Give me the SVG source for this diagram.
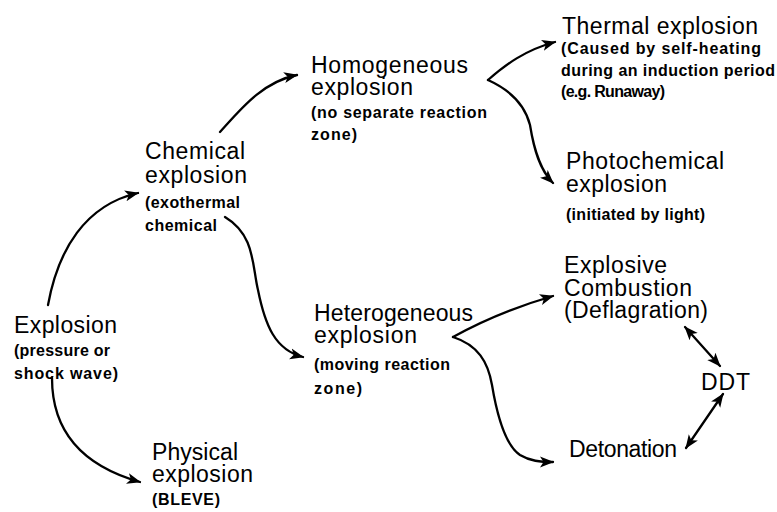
<svg xmlns="http://www.w3.org/2000/svg" width="777" height="512" viewBox="0 0 777 512">
<style>
.t{font-family:"Liberation Sans",Arial,Helvetica,sans-serif;font-size:23px;fill:#000}
.s{font-family:"Liberation Sans",Arial,Helvetica,sans-serif;font-size:16px;font-weight:bold;fill:#000}
.c{fill:none;stroke:#000;stroke-width:2.3;stroke-linecap:round}
</style>
<defs>
<marker id="ah" markerUnits="userSpaceOnUse" markerWidth="16" markerHeight="12" refX="13" refY="6" orient="auto-start-reverse">
<path d="M0,0.5 L14,6 L0,11.5 L3.5,6 Z" fill="#000"/>
</marker>
</defs>
<rect width="777" height="512" fill="#fff"/>
<g id="connectors">
<path class="c" d="M48,305 C58,250 85,205 138,193" marker-end="url(#ah)"/>
<path class="c" d="M220,132 C240,110 262,82 297,75" marker-end="url(#ah)"/>
<path class="c" d="M225,217 C255,235 252,265 258,290 C265,325 275,350 303,357" marker-end="url(#ah)"/>
<path class="c" d="M52,378 C52,430 80,465 140,482" marker-end="url(#ah)"/>
<path class="c" d="M488,80 C505,65 525,50 555,42" marker-end="url(#ah)"/>
<path class="c" d="M488,80 C510,90 525,105 530,125 C534,150 540,170 553,183" marker-end="url(#ah)"/>
<path class="c" d="M453,337 C480,322 515,307 553,296" marker-end="url(#ah)"/>
<path class="c" d="M453,337 C478,345 488,362 492,385 C497,415 505,445 520,455 C530,461 540,462 553,462" marker-end="url(#ah)"/>
<path class="c" d="M685,327 L720,366" marker-start="url(#ah)" marker-end="url(#ah)"/>
<path class="c" d="M723,394 L686,448" marker-start="url(#ah)" marker-end="url(#ah)"/>
</g>
<g id="explosion">
<text class="t" x="14" y="333" textLength="103">Explosion</text>
<text class="s" x="14" y="356" textLength="96">(pressure or</text>
<text class="s" x="14" y="379" textLength="104">shock wave)</text>
</g>
<g id="chemical">
<text class="t" x="145" y="159" textLength="100">Chemical</text>
<text class="t" x="145" y="183" textLength="102">explosion</text>
<text class="s" x="145" y="208" textLength="95">(exothermal</text>
<text class="s" x="145" y="231" textLength="72">chemical</text>
</g>
<g id="homogeneous">
<text class="t" x="311" y="73" textLength="157">Homogeneous</text>
<text class="t" x="311" y="95" textLength="102">explosion</text>
<text class="s" x="311" y="118" textLength="176">(no separate reaction</text>
<text class="s" x="311" y="140" textLength="46">zone)</text>
</g>
<g id="thermal">
<text class="t" x="562" y="34" textLength="196">Thermal explosion</text>
<text class="s" x="561" y="54" textLength="200">(Caused by self-heating</text>
<text class="s" x="561" y="75.5" textLength="214">during an induction period</text>
<text class="s" x="561" y="97" textLength="104">(e.g. Runaway)</text>
</g>
<g id="photochemical">
<text class="t" x="566" y="169" textLength="158">Photochemical</text>
<text class="t" x="566" y="192" textLength="101">explosion</text>
<text class="s" x="566" y="220" textLength="139">(initiated by light)</text>
</g>
<g id="heterogeneous">
<text class="t" x="314" y="321" textLength="159">Heterogeneous</text>
<text class="t" x="314" y="343" textLength="103">explosion</text>
<text class="s" x="314" y="370" textLength="136">(moving reaction</text>
<text class="s" x="314" y="394" textLength="48">zone)</text>
</g>
<g id="combustion">
<text class="t" x="564" y="273" textLength="103">Explosive</text>
<text class="t" x="564" y="296" textLength="128">Combustion</text>
<text class="t" x="564" y="318" textLength="144">(Deflagration)</text>
</g>
<g id="ddt">
<text class="t" x="701" y="390" textLength="49">DDT</text>
</g>
<g id="detonation">
<text class="t" x="569" y="457" textLength="108">Detonation</text>
</g>
<g id="physical">
<text class="t" x="152" y="460" textLength="86">Physical</text>
<text class="t" x="152" y="482" textLength="101">explosion</text>
<text class="s" x="152" y="505" textLength="68">(BLEVE)</text>
</g>
</svg>
